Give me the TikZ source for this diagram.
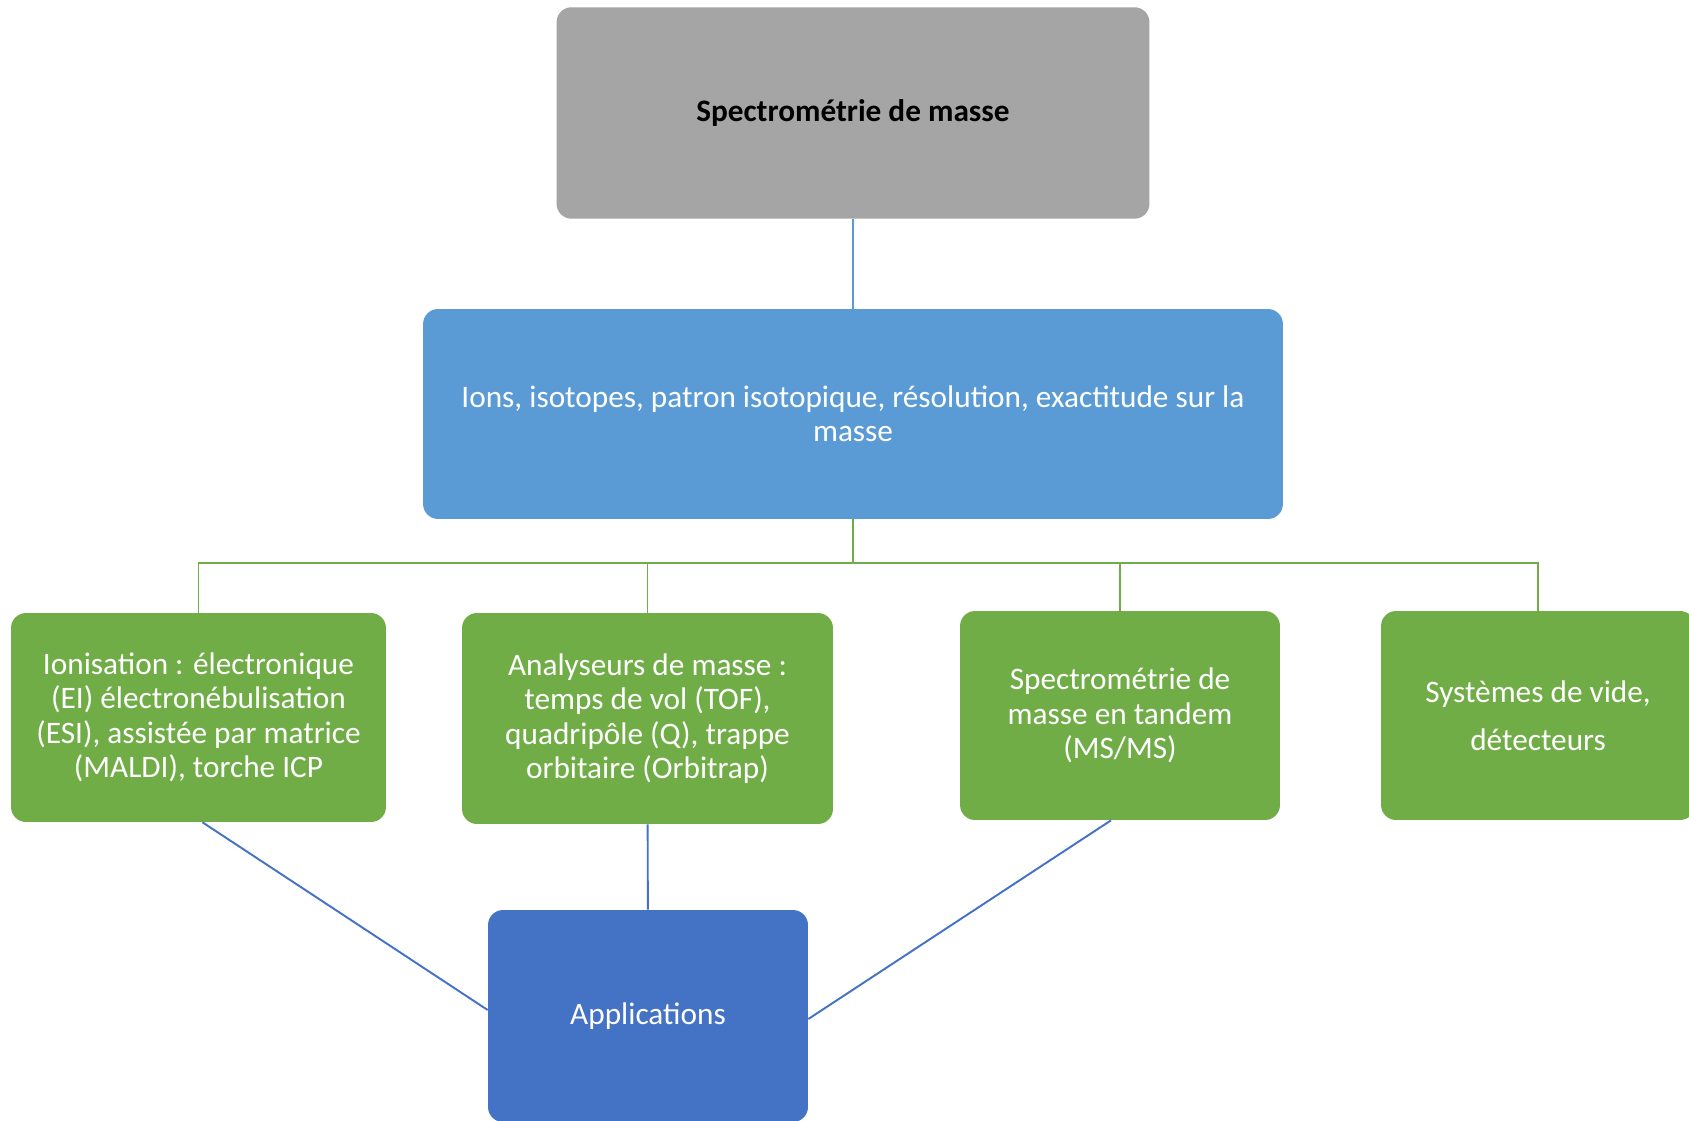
\documentclass[tikz,border=0pt]{standalone}
\usepackage{fontspec}
\setmainfont{Carlito}
\usepackage{xcolor}
\usepackage{tikz}

\definecolor{boxgray}{HTML}{A5A5A5}
\definecolor{boxblue}{HTML}{5B9BD5}
\definecolor{boxgreen}{HTML}{70AD47}
\definecolor{boxdark}{HTML}{4472C4}

\begin{document}
\begin{tikzpicture}[x=0.02cm, y=-0.02cm,
	block/.style={rectangle, rounded corners=0.3cm, draw=none, align=center, inner sep=0pt,
		font=\fontsize{17.8}{19.6}\selectfont, text=white},
	greenline/.style={draw=boxgreen, line width=1.1pt},
	blueline/.style={draw=boxdark, line width=1.1pt}]
	\useasboundingbox (0,0) rectangle (1689,1121);
	\node[block, fill=boxgray, text=black, font=\fontsize{17.8}{19.6}\selectfont\bfseries, minimum width=11.86cm, minimum height=4.23cm] at (853,113)(masse){Spectrométrie de masse};
	\node[block, fill=boxblue, minimum width=17.2cm, minimum height=4.2cm] at (853,414)(bases){Ions, isotopes, patron isotopique, résolution, exactitude sur la\\masse};
	\node[block, fill=boxgreen, minimum width=7.5cm, minimum height=4.18cm] at (198.5,717.5)(ionisation){Ionisation : électronique\\(EI) électronébulisation\\(ESI), assistée par matrice\\(MALDI), torche ICP};
	\node[block, fill=boxgreen, minimum width=7.42cm, minimum height=4.22cm] at (647.5,718.5)(analyseurs){Analyseurs de masse :\\temps de vol (TOF),\\quadripôle (Q), trappe\\orbitaire (Orbitrap)};
	\node[block, fill=boxgreen, minimum width=6.4cm, minimum height=4.18cm] at (1120,715.5)(tandem){Spectrométrie de\\masse en tandem\\(MS/MS)};
	\node[block, fill=boxgreen, minimum width=6.28cm, minimum height=4.18cm] at (1538,715.5)(vide){Systèmes de vide,\\[0.27cm]détecteurs};
	\node[block, fill=boxdark, minimum width=6.4cm, minimum height=4.24cm] at (648,1016)(applis){Applications};
	\coordinate (bus) at (853,563);
	\draw[draw=boxblue, line width=1.1pt](masse) -- (bases);
	\draw[greenline](bases) -- (bus);
	\foreach \b in {ionisation,analyseurs,tandem,vide}
		\draw[greenline](\b.north) |- (bus);
	\draw[blueline]([xshift=0.08cm]ionisation.south) -- ([yshift=0.12cm]applis.west);
	\draw[blueline](analyseurs) -- (applis);
	\draw[blueline]([xshift=-0.18cm]tandem.south) -- ([yshift=-0.06cm]applis.east);
\end{tikzpicture}
\end{document}
